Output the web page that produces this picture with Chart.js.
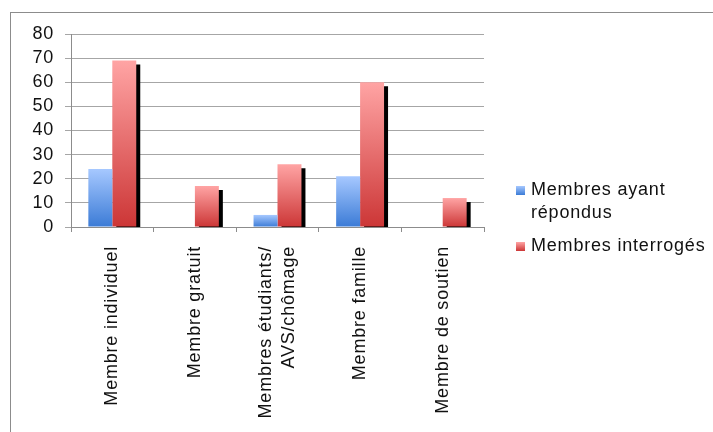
<!DOCTYPE html>
<html>
<head>
<meta charset="utf-8">
<script src="https://cdn.jsdelivr.net/npm/chart.js@4/dist/chart.umd.min.js"></script>
<style>
  html,body{margin:0;padding:0;background:#fff;}
  #wrap{position:relative;width:713px;height:432px;overflow:hidden;}
  #frame{position:absolute;left:10px;top:12px;width:720px;height:440px;border-top:1px solid #8c8c8c;border-left:1px solid #8c8c8c;}
  #chart{position:absolute;left:0;top:0;}
</style>
</head>
<body>
<div id="wrap">
  <div id="frame"></div>
  <canvas id="chart" width="713" height="432"></canvas>
</div>
<script>
const categories = ["Membre individuel","Membre gratuit",["Membres étudiants/","AVS/chômage"],"Membre famille","Membre de soutien"];
const repondus = [24,0,5,21,0];
const interroges = [69,17,26,60,12];
const seriesNames = ["Membres ayant répondus","Membres interrogés"];
const legendLines = [["Membres ayant","répondus"],["Membres interrogés"]];
const yMin = 0;
const yMax = 80;
const yStep = 10;

const blueStops = ["#a6c8ff","#3b7bd6"];
const redStops = ["#ffa4a4","#cc3636"];
const FONT = "'Liberation Sans', Arial, sans-serif";
const FONT_SIZE = 18;
const LINE_HEIGHT = 1.28;
const TRACKING = "0.8px";
const TEXT = "#111";

function barGradient(stops){
  return function(context){
    const chart = context.chart;
    if(context.type !== "data" || !chart.chartArea) return stops[1];
    const y = chart.scales.y;
    const top = y.getPixelForValue(context.raw);
    const bottom = y.getPixelForValue(0);
    if(bottom - top < 1) return stops[1];
    const g = chart.ctx.createLinearGradient(0,top,0,bottom);
    g.addColorStop(0,stops[0]);
    g.addColorStop(1,stops[1]);
    return g;
  };
}

// slightly loose tracking on every label
const spacing = {
  id:"spacing",
  beforeUpdate(chart){ chart.ctx.letterSpacing = TRACKING; },
  beforeDraw(chart){ chart.ctx.letterSpacing = TRACKING; }
};

// rotated two-line category labels: centre the block on the tick
const centerLabels = {
  id:"centerLabels",
  afterUpdate(chart){
    const scale = chart.scales.x;
    const items = scale.getLabelItems(chart.chartArea);
    const lh = FONT_SIZE * LINE_HEIGHT;
    items.forEach(item => {
      if(Array.isArray(item.label) && item.label.length > 1){
        item.options.translation[0] -= (item.label.length - 1) * lh / 2;
      }
    });
  }
};

// hard black drop shadow behind the red bars
const barShadow = {
  id:"barShadow",
  beforeDatasetDraw(chart,args){
    if(args.index !== 1) return;
    const ctx = chart.ctx;
    ctx.save();
    ctx.shadowColor = "#000";
    ctx.shadowOffsetX = 4;
    ctx.shadowOffsetY = 4;
    ctx.shadowBlur = 0;
  },
  afterDatasetDraw(chart,args){
    if(args.index === 1) chart.ctx.restore();
  }
};

// legend on the right, marker next to the first line
const sideLegend = {
  id:"sideLegend",
  afterDraw(chart){
    const ctx = chart.ctx;
    ctx.save();
    ctx.letterSpacing = TRACKING;
    ctx.font = FONT_SIZE + "px " + FONT;
    ctx.textBaseline = "middle";
    ctx.textAlign = "left";
    let y = 190;
    legendLines.forEach((lines,i) => {
      const stops = i === 0 ? blueStops : redStops;
      const g = ctx.createLinearGradient(0,y-4,0,y+5);
      g.addColorStop(0,stops[0]);
      g.addColorStop(1,stops[1]);
      ctx.fillStyle = g;
      ctx.fillRect(516,y-4,9,9);
      ctx.fillStyle = TEXT;
      lines.forEach((line,j) => ctx.fillText(line,531,y + j*23));
      y += (lines.length - 1)*23 + 33;
    });
    ctx.restore();
  }
};

new Chart(document.getElementById("chart"),{
  type:"bar",
  data:{
    labels:categories,
    datasets:[
      {
        label:seriesNames[0],
        data:repondus,
        backgroundColor:barGradient(blueStops),
        borderWidth:0,
        categoryPercentage:0.58,
        barPercentage:1,
        clip:0
      },
      {
        label:seriesNames[1],
        data:interroges,
        backgroundColor:barGradient(redStops),
        borderWidth:0,
        categoryPercentage:0.58,
        barPercentage:1,
        clip:0
      }
    ]
  },
  options:{
    responsive:false,
    animation:false,
    events:[],
    layout:{ padding:{ top:34, right:229, left:0, bottom:0 } },
    plugins:{
      legend:{ display:false },
      tooltip:{ enabled:false }
    },
    scales:{
      x:{
        grid:{ offset:true, drawOnChartArea:false, drawTicks:true, tickLength:5, color:"#8c8c8c" },
        border:{ color:"#8c8c8c" },
        ticks:{
          minRotation:90,
          maxRotation:90,
          autoSkip:false,
          padding:14,
          color:TEXT,
          font:{ family:FONT, size:FONT_SIZE, lineHeight:LINE_HEIGHT }
        },
        afterFit(scale){ scale.height = 205; }
      },
      y:{
        min:yMin,
        max:yMax,
        grid:{ color:"#a6a6a6", tickLength:6 },
        border:{ color:"#8c8c8c" },
        ticks:{
          stepSize:yStep,
          autoSkip:false,
          padding:11,
          color:TEXT,
          font:{ family:FONT, size:FONT_SIZE }
        },
        afterFit(scale){ scale.width = 71; }
      }
    }
  },
  plugins:[spacing,centerLabels,barShadow,sideLegend]
});
</script>
</body>
</html>
